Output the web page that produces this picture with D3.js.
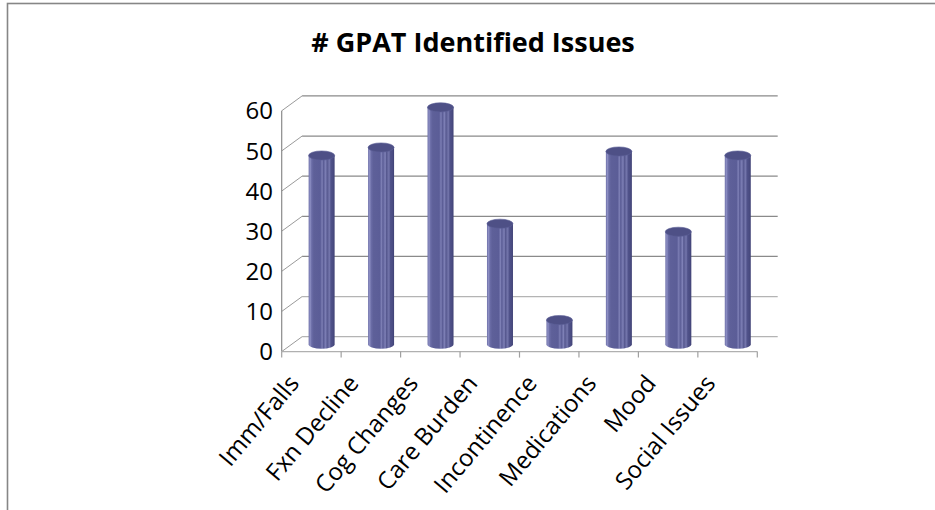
<!DOCTYPE html>
<html>
<head>
<meta charset="utf-8">
<script src="https://cdn.jsdelivr.net/npm/d3@7"></script>
<style>
  html, body { margin: 0; padding: 0; background: #fff; }
  svg { display: block; }
  text { font-family: "Open Sans", "Noto Sans", "DejaVu Sans", sans-serif; fill: #000; }
</style>
</head>
<body>
<svg id="chart" width="935" height="510"></svg>
<script>
// Chart data
const title = "# GPAT Identified Issues";
const categories = ["Imm/Falls", "Fxn Decline", "Cog Changes", "Care Burden",
                    "Incontinence", "Medications", "Mood", "Social Issues"];
const issueCounts = [47, 49, 59, 30, 6, 48, 28, 47];
const yTicks = [0, 10, 20, 30, 40, 50, 60];

const svg = d3.select("#chart");

// Outer chart frame (continues past the page edges on right and bottom)
svg.append("rect")
  .attr("x", 7.5).attr("y", 3.5)
  .attr("width", 1000).attr("height", 600)
  .attr("fill", "#fff")
  .attr("stroke", "#868686").attr("stroke-width", 1.6);

// 3D frame: front plane and a depth offset for the back wall
const front = { left: 281.7, right: 757.3 };
const depth = { dx: 20.4, dy: -14.9 };

const x = d3.scaleBand().domain(categories).range([front.left, front.right]).padding(0);
const y = d3.scaleLinear().domain([0, 60]).range([351.6, 110.8]);

const g = svg.append("g");

// Back wall gridlines
g.selectAll("line.grid").data(yTicks).join("line")
  .attr("class", "grid")
  .attr("x1", front.left + depth.dx).attr("x2", 777.7)
  .attr("y1", d => y(d) + depth.dy).attr("y2", d => y(d) + depth.dy)
  .attr("stroke", d => d <= 10 ? "#b4b4b4" : "#8a8a8a")
  .attr("stroke-width", 1.2);

// Side wall diagonals from the value axis to the back wall
g.selectAll("line.diag").data(yTicks).join("line")
  .attr("class", "diag")
  .attr("x1", front.left).attr("x2", front.left + depth.dx)
  .attr("y1", d => y(d)).attr("y2", d => y(d) + depth.dy)
  .attr("stroke", "#9a9a9a").attr("stroke-width", 1);

// Value axis line
g.append("line")
  .attr("x1", front.left).attr("x2", front.left)
  .attr("y1", y(0)).attr("y2", y(60))
  .attr("stroke", "#8a8a8a").attr("stroke-width", 1.2);

// Floor front edge and category ticks
g.append("line")
  .attr("x1", front.left).attr("x2", front.right)
  .attr("y1", y(0)).attr("y2", y(0))
  .attr("stroke", "#b0b0b0").attr("stroke-width", 1.2);

const tickXs = categories.map(c => x(c)).concat([front.right]);
g.selectAll("line.ctick").data(tickXs).join("line")
  .attr("class", "ctick")
  .attr("x1", d => d).attr("x2", d => d)
  .attr("y1", y(0)).attr("y2", y(0) + 6)
  .attr("stroke", "#a0a0a0").attr("stroke-width", 1.2);

// Value labels
g.selectAll("text.ylab").data(yTicks).join("text")
  .attr("class", "ylab")
  .attr("x", 273).attr("y", d => y(d))
  .attr("dy", "0.36em")
  .attr("text-anchor", "end")
  .attr("font-size", 24)
  .text(d => d);

// Cylinder shading
const defs = svg.append("defs");
const grad = defs.append("linearGradient").attr("id", "cyl").attr("x1", 0).attr("x2", 1).attr("y1", 0).attr("y2", 0);
[
  [0.00, "#6c6ea8"], [0.06, "#8d8fc3"], [0.12, "#6a6ca6"], [0.20, "#5e6099"],
  [0.45, "#5b5d97"], [0.52, "#7d7fb5"], [0.57, "#5a5c95"], [0.66, "#7f81b7"],
  [0.71, "#56588f"], [0.80, "#7476ac"], [0.86, "#50528a"], [0.94, "#4a4c82"],
  [1.00, "#3f4174"]
].forEach(([o, c]) => grad.append("stop").attr("offset", o).attr("stop-color", c));

const barW = 26;
const ry = 4.6;
const midY = v => y(v) + depth.dy / 2;
const cx = c => x(c) + x.bandwidth() / 2 + depth.dx / 2;

const bars = g.selectAll("g.bar").data(categories.map((c, i) => ({ c, v: issueCounts[i] })))
  .join("g").attr("class", "bar");

// body with rounded bottom
bars.append("path")
  .attr("d", d => {
    const l = cx(d.c) - barW / 2, r = cx(d.c) + barW / 2;
    const t = midY(d.v), b = midY(0);
    return `M${l},${t} L${l},${b} A${barW / 2},${ry} 0 0 0 ${r},${b} L${r},${t} Z`;
  })
  .attr("fill", "url(#cyl)");

// top cap
bars.append("ellipse")
  .attr("cx", d => cx(d.c)).attr("cy", d => midY(d.v))
  .attr("rx", barW / 2).attr("ry", ry)
  .attr("fill", "#4e5086")
  .attr("stroke", "#5d5f97").attr("stroke-width", 0.6);

// Category labels, rotated, ending just left of each category centre
g.selectAll("text.xlab").data(categories).join("text")
  .attr("class", "xlab")
  .attr("transform", d => `translate(${x(d) + x.bandwidth() / 2 - 11},${384}) rotate(-50)`)
  .attr("text-anchor", "end")
  .attr("font-size", 24)
  .text(d => d);

// Title
svg.append("text")
  .attr("x", 473).attr("y", 52)
  .attr("text-anchor", "middle")
  .attr("font-size", 27)
  .attr("font-weight", "bold")
  .text(title);
</script>
</body>
</html>
